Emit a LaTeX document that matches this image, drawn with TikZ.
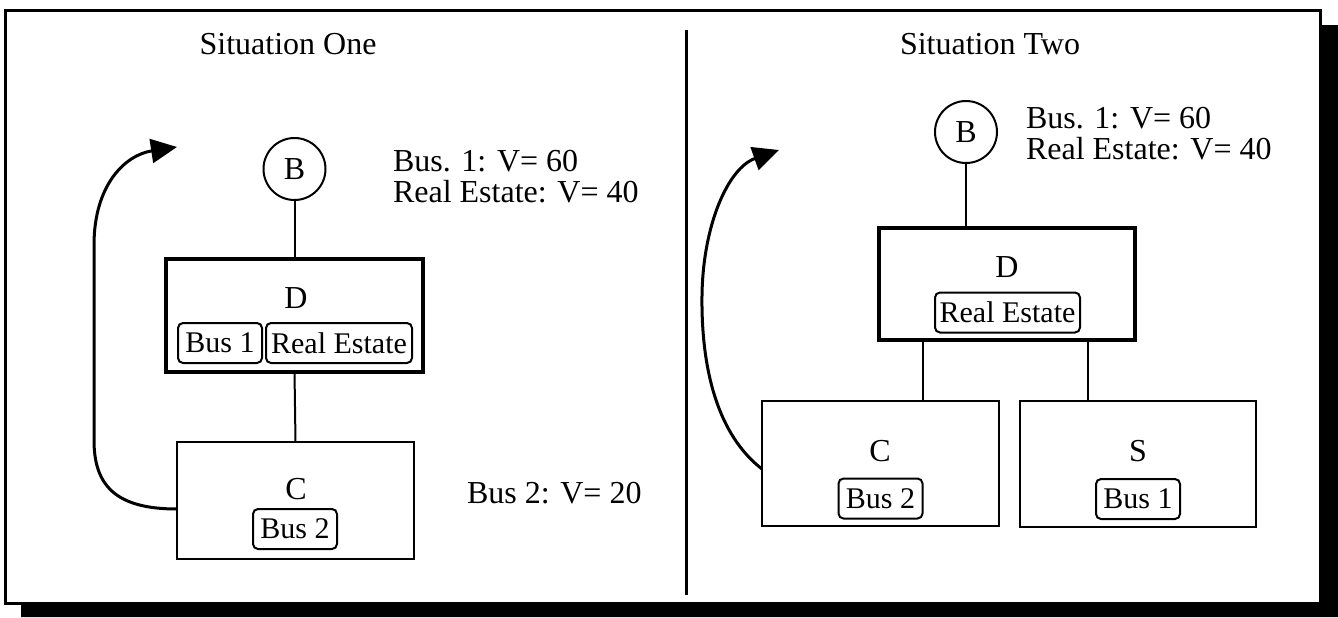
\documentclass[tikz,border=0pt]{standalone}
\usepackage{fontspec}
\setmainfont{Liberation Serif}
\usetikzlibrary{arrows.meta,calc}
\begin{document}
\begin{tikzpicture}[x=0.5pt,y=-0.5pt,
  every node/.style={inner sep=0pt,outer sep=0pt},
  txt/.style={font=\fontsize{16}{18}\selectfont},
  lbl/.style={font=\fontsize{16}{18}\selectfont},
  bcircle/.style={draw,circle,line width=1pt,minimum size=31pt,font=\fontsize{16}{18}\selectfont},
  owner/.style={draw,rectangle,line width=2pt},
  sub/.style={draw,rectangle,line width=1pt},
  asset/.style={draw,rounded corners=2.5pt,line width=1pt,minimum height=20pt,font=\fontsize{15}{18}\selectfont},
  link/.style={line width=1pt},
  flow/.style={line width=1.5pt,-{Triangle[length=13pt,width=12pt]}}]
\useasboundingbox (0,0) rectangle (1338,617);

% frame with drop shadow
\fill (21,603) -- (1320,603) -- (1320,25) -- (1338,25) -- (1338,617) -- (21,617) -- cycle;
\draw[line width=1.5pt,fill=white] (5,10) rectangle (1320,603);
\draw[line width=1.5pt] (686,30) -- (686,595);

% ---------- Situation One ----------
\node[txt] (t1) at (288,44) {Situation One};
\node[bcircle] (B1) at (294.5,169) {B};
\node[owner,minimum width=128.5pt,minimum height=56.5pt] (D1) at (294.5,315.5) {};
\node[lbl] (D1l) at (296,298) {D};
\node[asset,minimum width=42pt] (D1a) at (220,343) {Bus 1};
\node[asset,minimum width=73pt] (D1b) at (339,343) {Real Estate};
\node[sub,minimum width=118.5pt,minimum height=58.5pt] (C1) at (295.5,500.5) {};
\node[lbl] (C1l) at (296,489) {C};
\node[asset,minimum width=42pt] (C1a) at (295,529) {Bus 2};

\node[txt,anchor=west] (v1a) at (393,161) {Bus. 1: V= 60};
\node[txt,anchor=west] (v1b) at (393,192) {Real Estate: V= 40};
\node[txt,anchor=west] (v1c) at (467,493) {Bus 2: V= 20};

\draw[link] (B1.south) -- (D1.north);
\draw[link] (D1.south) -- (C1.north);
\coordinate (tip1) at (177,147);
\draw[flow] ($(C1.west)+(0,8.5)$) .. controls (115,509) and (94,485) .. (94,440)
  -- (94,245) .. controls (94,185) and (125,155) .. (tip1);

% ---------- Situation Two ----------
\node[txt] (t2) at (990,44) {Situation Two};
\node[bcircle] (B2) at (966,132) {B};
\node[owner,minimum width=128pt,minimum height=56pt] (D2) at (1007,284) {};
\node[lbl] (D2l) at (1007,267) {D};
\node[asset,minimum width=72.5pt] (D2a) at (1007.5,312.5) {Real Estate};
\node[sub,minimum width=118.5pt,minimum height=62.5pt] (C2) at (880.5,463.5) {};
\node[lbl] (C2l) at (880,451) {C};
\node[asset,minimum width=42pt] (C2a) at (880.5,498.5) {Bus 2};
\node[sub,minimum width=118pt,minimum height=63pt] (S2) at (1138,464) {};
\node[lbl] (S2l) at (1138,451) {S};
\node[asset,minimum width=42pt] (S2a) at (1138,499) {Bus 1};

\node[txt,anchor=west] (v2a) at (1026,118) {Bus. 1: V= 60};
\node[txt,anchor=west] (v2b) at (1026,149) {Real Estate: V= 40};

\draw[link] (B2.south) -- (B2.south |- D2.north);
\coordinate (d2c) at (923,340);
\coordinate (d2s) at (1088,340);
\draw[link] (d2c) -- (d2c |- C2.north);
\draw[link] (d2s) -- (d2s |- S2.north);
\coordinate (tip2) at (779,150);
\draw[flow] ($(C2.west)+(0,5.5)$) .. controls (718,435) and (701,370) .. (702,295)
  .. controls (703,225) and (728,168) .. (tip2);
\end{tikzpicture}
\end{document}
